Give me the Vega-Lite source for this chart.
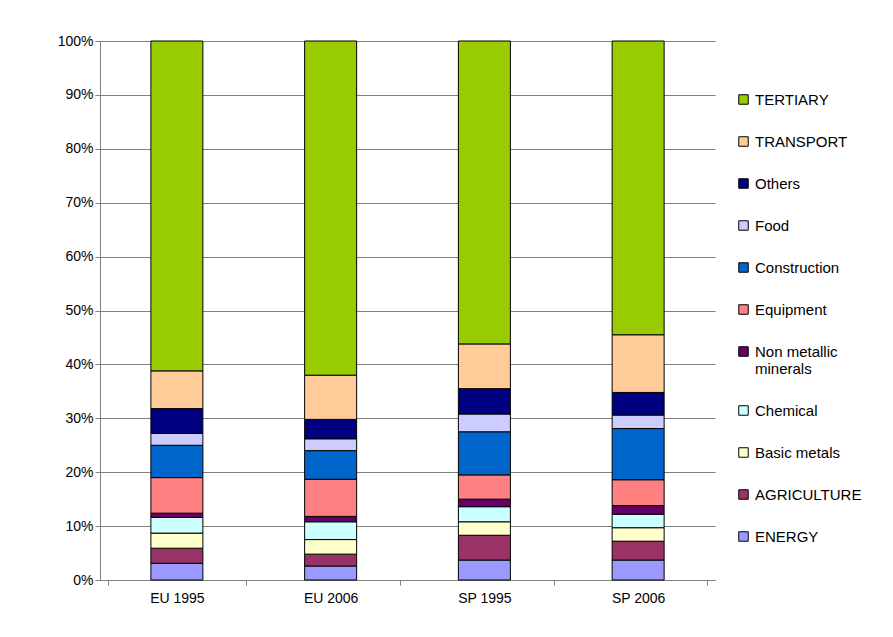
{
  "$schema": "https://vega.github.io/schema/vega-lite/v6.json",
  "width": 615,
  "height": 539,
  "autosize": "none",
  "padding": {"left": 100, "top": 41, "right": 178, "bottom": 57},
  "background": "white",
  "config": {
    "view": {"stroke": null},
    "font": "Liberation Sans",
    "axis": {"labelFont": "Liberation Sans", "labelFontSize": 14, "labelColor": "black", "labelFontWeight": "normal"}
  },
  "data": {
    "values": [
      {"g": "EU 1995", "s": "ENERGY", "o": 1, "v": 3.1},
      {"g": "EU 1995", "s": "AGRICULTURE", "o": 2, "v": 2.8},
      {"g": "EU 1995", "s": "Basic metals", "o": 3, "v": 2.8},
      {"g": "EU 1995", "s": "Chemical", "o": 4, "v": 2.9},
      {"g": "EU 1995", "s": "Non metallic minerals", "o": 5, "v": 0.8},
      {"g": "EU 1995", "s": "Equipment", "o": 6, "v": 6.6},
      {"g": "EU 1995", "s": "Construction", "o": 7, "v": 6.0},
      {"g": "EU 1995", "s": "Food", "o": 8, "v": 2.2},
      {"g": "EU 1995", "s": "Others", "o": 9, "v": 4.6},
      {"g": "EU 1995", "s": "TRANSPORT", "o": 10, "v": 7.0},
      {"g": "EU 1995", "s": "TERTIARY", "o": 11, "v": 61.2},
      {"g": "EU 2006", "s": "ENERGY", "o": 1, "v": 2.6},
      {"g": "EU 2006", "s": "AGRICULTURE", "o": 2, "v": 2.2},
      {"g": "EU 2006", "s": "Basic metals", "o": 3, "v": 2.7},
      {"g": "EU 2006", "s": "Chemical", "o": 4, "v": 3.3},
      {"g": "EU 2006", "s": "Non metallic minerals", "o": 5, "v": 1.0},
      {"g": "EU 2006", "s": "Equipment", "o": 6, "v": 6.9},
      {"g": "EU 2006", "s": "Construction", "o": 7, "v": 5.3},
      {"g": "EU 2006", "s": "Food", "o": 8, "v": 2.2},
      {"g": "EU 2006", "s": "Others", "o": 9, "v": 3.6},
      {"g": "EU 2006", "s": "TRANSPORT", "o": 10, "v": 8.2},
      {"g": "EU 2006", "s": "TERTIARY", "o": 11, "v": 62.0},
      {"g": "SP 1995", "s": "ENERGY", "o": 1, "v": 3.7},
      {"g": "SP 1995", "s": "AGRICULTURE", "o": 2, "v": 4.6},
      {"g": "SP 1995", "s": "Basic metals", "o": 3, "v": 2.5},
      {"g": "SP 1995", "s": "Chemical", "o": 4, "v": 2.8},
      {"g": "SP 1995", "s": "Non metallic minerals", "o": 5, "v": 1.4},
      {"g": "SP 1995", "s": "Equipment", "o": 6, "v": 4.5},
      {"g": "SP 1995", "s": "Construction", "o": 7, "v": 8.0},
      {"g": "SP 1995", "s": "Food", "o": 8, "v": 3.3},
      {"g": "SP 1995", "s": "Others", "o": 9, "v": 4.7},
      {"g": "SP 1995", "s": "TRANSPORT", "o": 10, "v": 8.3},
      {"g": "SP 1995", "s": "TERTIARY", "o": 11, "v": 56.2},
      {"g": "SP 2006", "s": "ENERGY", "o": 1, "v": 3.7},
      {"g": "SP 2006", "s": "AGRICULTURE", "o": 2, "v": 3.5},
      {"g": "SP 2006", "s": "Basic metals", "o": 3, "v": 2.5},
      {"g": "SP 2006", "s": "Chemical", "o": 4, "v": 2.5},
      {"g": "SP 2006", "s": "Non metallic minerals", "o": 5, "v": 1.6},
      {"g": "SP 2006", "s": "Equipment", "o": 6, "v": 4.8},
      {"g": "SP 2006", "s": "Construction", "o": 7, "v": 9.5},
      {"g": "SP 2006", "s": "Food", "o": 8, "v": 2.5},
      {"g": "SP 2006", "s": "Others", "o": 9, "v": 4.2},
      {"g": "SP 2006", "s": "TRANSPORT", "o": 10, "v": 10.7},
      {"g": "SP 2006", "s": "TERTIARY", "o": 11, "v": 54.5}
    ]
  },
  "mark": {"type": "bar", "width": 52, "stroke": "black", "strokeWidth": 1},
  "encoding": {
    "x": {
      "field": "g", "type": "nominal", "title": null,
      "axis": {"labelAngle": 0, "domainColor": "#808080", "tickColor": "#808080", "tickBand": "extent", "labelPadding": 6}
    },
    "y": {
      "field": "v", "type": "quantitative", "stack": "zero", "title": null,
      "scale": {"domain": [0, 100], "nice": false},
      "axis": {"values": [0, 10, 20, 30, 40, 50, 60, 70, 80, 90, 100], "labelExpr": "datum.value + '%'", "labelOverlap": false, "gridColor": "#808080", "domainColor": "#808080", "tickColor": "#808080"}
    },
    "order": {"field": "o", "type": "quantitative"},
    "color": {
      "field": "s", "type": "nominal",
      "scale": {
        "domain": ["TERTIARY", "TRANSPORT", "Others", "Food", "Construction", "Equipment", "Non metallic minerals", "Chemical", "Basic metals", "AGRICULTURE", "ENERGY"],
        "range": ["#99CC00", "#FFCC99", "#000080", "#CCCCFF", "#0066CC", "#FF8080", "#660066", "#CCFFFF", "#FFFFCC", "#993366", "#9999FF"]
      },
      "legend": {
        "title": null, "orient": "none", "legendX": 636, "legendY": 51,
        "symbolType": "square", "symbolSize": 90, "symbolStrokeColor": "black", "symbolStrokeWidth": 1,
        "labelFontSize": 15, "labelFont": "Liberation Sans", "labelColor": "black", "rowPadding": 26,
        "labelExpr": "datum.label == 'Non metallic minerals' ? ['Non metallic', 'minerals'] : datum.label",
        "labelLimit": 200
      }
    }
  }
}
